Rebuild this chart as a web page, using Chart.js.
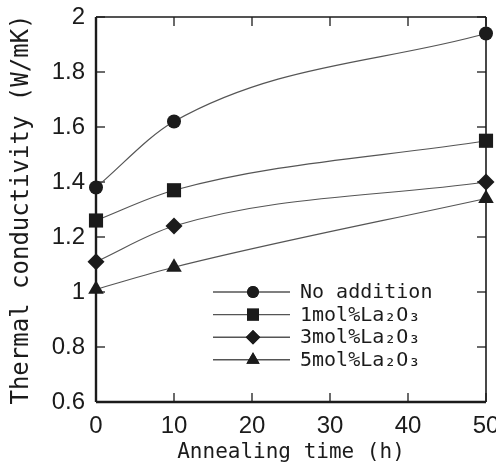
<!DOCTYPE html>
<html>
<head>
<meta charset="utf-8">
<script src="https://cdn.jsdelivr.net/npm/chart.js@4.4.1/dist/chart.umd.min.js"></script>
<style>
  html, body { margin: 0; padding: 0; background: #fff; }
  #wrap { width: 496px; height: 470px; }
</style>
</head>
<body>
<div id="wrap"><canvas id="chart" width="496" height="470"></canvas></div>
<script>
// annealing time (h)
const times = [0, 10, 50];
const seriesNames = ['No addition', '1mol%La\u2082O\u2083', '3mol%La\u2082O\u2083', '5mol%La\u2082O\u2083'];
const noAddition = [1.38, 1.62, 1.94];
const la1 = [1.26, 1.37, 1.55];
const la3 = [1.11, 1.24, 1.40];
const la5 = [1.01, 1.09, 1.34];
const xTicks = [0, 10, 20, 30, 40, 50];
const yTicks = [0.6, 0.8, 1.0, 1.2, 1.4, 1.6, 1.8, 2.0];

const markers = ['circle', 'rect', 'rectRot', 'triangle'];
const markerSize = [7, 10, 8.5, 9];
const allValues = [noAddition, la1, la3, la5];

const ink = '#1b1b1b';
const lineGray = '#555';

const datasets = allValues.map((vals, i) => ({
    label: seriesNames[i],
    data: times.map((t, k) => ({x: t, y: vals[k]})),
    borderColor: lineGray,
    borderWidth: 1.2,
    backgroundColor: ink,
    pointBackgroundColor: ink,
    pointBorderColor: ink,
    pointBorderWidth: 0,
    pointStyle: markers[i],
    pointRadius: markerSize[i],
    cubicInterpolationMode: 'monotone',
    clip: false
}));

// inward ticks on all four sides + box
const frameTicks = {
    id: 'frameTicks',
    beforeDatasetsDraw(chart) {
        const {ctx, chartArea: a, scales: {x, y}} = chart;
        const len = 9;
        ctx.save();
        ctx.strokeStyle = ink;
        ctx.lineWidth = 1.3;
        const seg = (x1, y1, x2, y2) => {
            ctx.beginPath();
            ctx.moveTo(x1, y1);
            ctx.lineTo(x2, y2);
            ctx.stroke();
        };
        xTicks.forEach(v => {
            const px = x.getPixelForValue(v);
            seg(px, a.bottom, px, a.bottom - len);
            seg(px, a.top, px, a.top + len);
        });
        yTicks.forEach(v => {
            const py = y.getPixelForValue(v);
            seg(a.left, py, a.left + len, py);
            seg(a.right, py, a.right - len, py);
        });
        ctx.lineWidth = 1.6;
        seg(a.left, a.top, a.right, a.top);
        seg(a.right, a.top, a.right, a.bottom);
        ctx.lineWidth = 2.4;
        seg(a.left, a.top, a.left, a.bottom);
        seg(a.left, a.bottom, a.right, a.bottom);
        ctx.restore();
    }
};

// legend with line + marker, inside the plot
const lineLegend = {
    id: 'lineLegend',
    afterDatasetsDraw(chart) {
        const {ctx, chartArea: a} = chart;
        const x0 = a.left + 117;
        const x1 = a.left + 194;
        const xm = a.left + 157;
        const top = a.top + 275;
        const gap = 22.6;
        ctx.save();
        ctx.font = '20px "DejaVu Sans Mono"';
        ctx.textBaseline = 'middle';
        ctx.textAlign = 'left';
        chart.data.datasets.forEach((ds, i) => {
            const yy = top + i * gap;
            ctx.strokeStyle = lineGray;
            ctx.lineWidth = 1.4;
            ctx.beginPath();
            ctx.moveTo(x0, yy);
            ctx.lineTo(x1, yy);
            ctx.stroke();
            ctx.fillStyle = ink;
            ctx.strokeStyle = ink;
            Chart.helpers.drawPoint(ctx, {pointStyle: ds.pointStyle, radius: ds.pointRadius * 0.85, borderWidth: 0}, xm, yy);
            ctx.fill();
            ctx.fillStyle = ink;
            ctx.fillText(ds.label, a.left + 204, yy + 1);
        });
        ctx.restore();
    }
};

new Chart(document.getElementById('chart'), {
    type: 'line',
    data: {datasets: datasets},
    options: {
        responsive: false,
        animation: false,
        layout: {padding: {top: 17, right: 9, left: 0, bottom: 0}},
        plugins: {
            legend: {display: false},
            tooltip: {enabled: false}
        },
        scales: {
            x: {
                type: 'linear',
                min: 0,
                max: 50,
                afterBuildTicks: s => { s.ticks = xTicks.map(v => ({value: v})); },
                afterFit: s => {
                    s.height = 68;
                    s.paddingLeft = 0;
                    s.paddingRight = 0;
                },
                grid: {display: false, drawTicks: false},
                border: {display: false},
                ticks: {
                    color: ink,
                    padding: 10,
                    maxRotation: 0,
                    font: {family: '"Liberation Sans"', size: 24}
                },
                title: {
                    display: true,
                    text: 'Annealing time (h)',
                    color: ink,
                    font: {family: '"DejaVu Sans Mono"', size: 21},
                    padding: {top: 0, bottom: 5}
                }
            },
            y: {
                min: 0.6,
                max: 2,
                afterBuildTicks: s => { s.ticks = yTicks.map(v => ({value: v})); },
                afterFit: s => {
                    s.width = 96;
                    s.paddingTop = 0;
                    s.paddingBottom = 0;
                },
                grid: {display: false, drawTicks: false},
                border: {display: false},
                ticks: {
                    color: ink,
                    padding: 11,
                    font: {family: '"Liberation Sans"', size: 24},
                    callback: v => String(+(+v).toFixed(1))
                },
                title: {
                    display: true,
                    text: 'Thermal conductivity (W/mK)',
                    color: ink,
                    font: {family: '"DejaVu Sans Mono"', size: 24},
                    padding: {top: 7, bottom: 0}
                }
            }
        }
    },
    plugins: [frameTicks, lineLegend]
});
</script>
</body>
</html>
